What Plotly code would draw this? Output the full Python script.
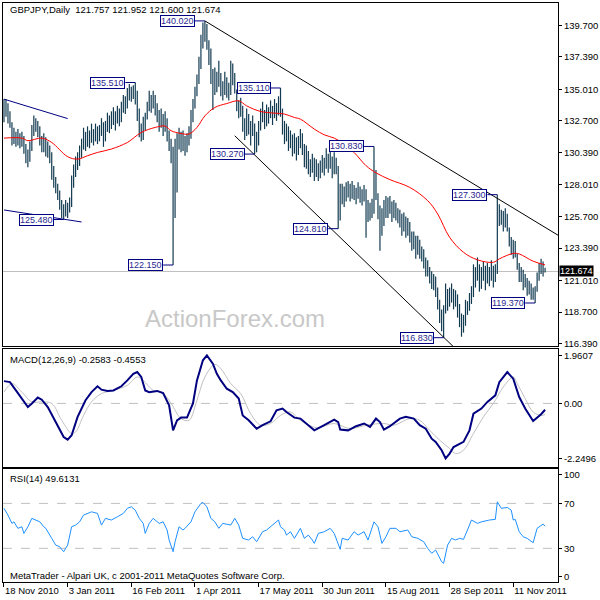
import plotly.graph_objects as go

# ---------------- data ----------------
symbol = "GBPJPY,Daily"
last_ohlc = [121.757, 121.952, 121.600, 121.674]

highs = [
    134.3, 134.3, 134.0, 133.4, 132.6, 132.2, 131.9, 132.1, 131.8, 131.9,
    131.6, 131.0, 130.6, 131.2, 132.4, 133.1, 132.9, 132.7, 132.3, 131.6,
    131.8, 131.5, 131.2, 130.9, 130.4, 129.4, 128.6, 128.1, 127.6, 126.9,
    126.6, 126.9, 126.7, 127.1, 128.7, 129.5, 130.1, 130.4, 130.9, 131.4,
    132.2, 131.9, 132.3, 132.0, 132.5, 132.1, 132.5, 132.3, 132.4, 132.9,
    132.6, 132.7, 133.3, 133.1, 133.4, 133.7, 133.4, 133.8, 133.6, 134.1,
    134.6, 134.5, 135.1, 135.4, 135.2, 135.3, 135.51, 134.9, 133.6, 132.5,
    133.0, 133.3, 134.1, 134.9, 134.6, 134.9, 134.6, 134.0, 133.5, 133.6,
    133.2, 133.4, 132.9, 132.0, 131.4, 130.8, 131.4, 131.8, 132.2, 131.9,
    132.0, 131.6, 131.8, 132.3, 133.5, 134.3, 135.2, 136.1, 137.4, 139.0,
    139.9, 140.02, 139.8, 138.6, 138.0, 136.5, 136.6, 136.3, 137.1, 136.2,
    135.6, 136.3, 135.9, 135.5, 137.1, 136.9, 136.2, 135.0, 134.2, 134.4,
    133.8, 132.9, 133.6, 133.2, 132.7, 133.1, 132.5, 131.9, 132.7, 133.6,
    134.1, 133.5, 133.9, 133.7, 134.2, 133.8, 134.3, 134.0, 134.5, 135.11,
    133.6, 132.7, 132.5, 132.3, 132.0, 131.7, 131.8, 131.5, 131.6, 132.1,
    131.8, 131.0, 130.9, 130.5, 129.9, 130.3, 130.0, 129.9, 129.6, 129.8,
    130.2, 130.0, 130.7, 130.3, 130.5, 130.1, 130.4, 130.0, 129.4, 128.1,
    128.1, 127.9, 128.2, 128.3, 128.1, 128.3, 128.0, 127.8, 128.2, 127.9,
    127.7, 128.0, 127.7, 126.9, 126.7, 127.0, 130.83, 129.1, 127.4, 126.5,
    126.3, 126.9, 127.2, 127.1, 127.2, 126.8, 126.9, 126.7, 126.3, 126.2,
    125.9, 126.0, 125.7, 125.6, 125.3, 124.6, 124.6, 124.3, 124.3, 124.0,
    123.5, 123.3, 122.7, 122.5, 122.0, 121.7, 121.5, 121.3, 120.5, 119.6,
    118.9, 119.2, 120.8, 120.4, 120.5, 120.8, 120.4, 120.3, 120.0, 119.3,
    118.6, 118.5, 119.6, 119.5, 120.1, 120.6, 122.2, 122.0, 122.7, 122.2,
    122.0, 122.4, 122.1, 122.3, 122.0, 122.5, 122.1, 122.2, 127.30, 126.6,
    126.2, 126.1, 126.3, 125.9, 124.9, 124.2, 124.0, 123.9, 123.0, 122.3,
    122.0, 121.8, 121.5, 121.2, 121.0, 120.8, 120.5, 120.6, 121.6, 122.3,
    122.6, 122.4, 121.952,
]

lows = [
    132.6, 133.0, 132.5, 132.2, 130.9, 131.0, 130.8, 130.9, 130.7, 130.8,
    130.3, 129.6, 129.3, 129.7, 130.5, 131.6, 131.9, 131.5, 130.9, 130.4,
    130.4, 130.1, 130.0, 129.6, 128.4, 127.8, 127.4, 126.9, 126.2, 125.6,
    125.48, 125.7, 125.6, 126.0, 126.4, 127.8, 128.6, 129.1, 129.4, 130.0,
    130.6, 130.5, 130.8, 130.7, 131.1, 130.9, 131.2, 131.0, 131.2, 131.6,
    130.8, 131.2, 131.9, 131.8, 132.1, 132.4, 132.0, 132.5, 132.3, 132.6,
    133.3, 133.2, 133.6, 134.2, 134.1, 134.3, 133.9, 132.7, 131.5, 131.2,
    131.3, 132.0, 132.8, 133.4, 133.3, 133.6, 133.1, 132.6, 131.9, 132.2,
    131.6, 131.9, 131.2, 130.5, 129.6, 122.15, 125.6, 127.45, 130.6, 130.4,
    130.5, 130.15, 130.4, 130.9, 131.4, 132.6, 133.6, 134.5, 135.4, 136.5,
    138.0, 138.5, 137.9, 136.8, 135.4, 133.5, 134.6, 134.8, 135.2, 134.5,
    134.2, 134.6, 134.4, 134.2, 134.6, 135.3, 134.7, 133.4, 132.9, 133.0,
    131.9, 131.3, 131.6, 131.7, 130.9, 131.6, 130.27, 130.4, 130.9, 132.0,
    132.6, 132.1, 132.3, 132.5, 132.9, 132.4, 132.9, 132.7, 133.1, 133.0,
    131.7, 131.0, 131.2, 130.5, 130.7, 130.1, 130.3, 129.8, 130.2, 130.7,
    130.2, 129.3, 129.2, 128.8, 128.6, 128.9, 128.3, 128.6, 128.3, 128.5,
    128.9, 128.7, 129.2, 128.9, 129.2, 128.5, 128.8, 128.8, 124.81, 125.4,
    126.6, 126.4, 126.8, 127.1, 126.8, 127.0, 126.9, 126.6, 127.0, 126.7,
    126.5, 126.8, 124.15, 125.3, 125.4, 125.6, 125.9, 126.9, 125.5, 123.2,
    124.3, 125.0, 125.6, 125.6, 125.9, 125.3, 125.6, 125.4, 125.2, 124.9,
    124.3, 124.6, 124.15, 124.3, 123.8, 123.2, 123.3, 122.6, 122.9, 122.6,
    122.4, 121.9, 121.3, 121.3, 120.8, 120.4, 120.3, 119.8, 118.9, 117.9,
    117.3, 116.83, 118.6, 118.8, 119.1, 119.4, 118.9, 119.1, 118.3, 117.6,
    116.9, 117.2, 117.7, 118.5, 118.8, 119.3, 119.8, 120.5, 121.0, 120.2,
    120.4, 121.0, 120.3, 120.8, 120.6, 121.0, 120.5, 120.9, 121.5, 125.0,
    125.1, 124.6, 124.9, 124.6, 123.5, 122.9, 122.6, 122.7, 121.8, 120.9,
    120.9, 120.3, 120.5, 119.9, 120.0, 119.6, 119.6, 119.37, 120.2, 121.0,
    121.5, 121.3, 121.600,
]

ma_idx = [0, 9, 12, 19, 24, 32, 37, 42, 47, 54, 62, 69, 76, 81, 84, 89, 93, 97,
          101, 106, 112, 118, 122, 129, 136, 141, 146, 149, 156, 161, 166, 171,
          176, 182, 187, 194, 204, 213, 218, 224, 231, 238, 246, 249, 256, 259,
          266, 272]
ma_val = [131.44, 131.44, 131.25, 131.44, 131.12, 130.08, 129.9, 130.15, 130.39,
          130.64, 131.12, 131.85, 132.22, 132.32, 131.98, 131.78, 131.74, 132.22,
          133.07, 133.68, 133.97, 134.17, 133.8, 133.39, 133.27, 133.2, 132.95,
          132.83, 132.1, 131.68, 131.44, 131.0, 130.39, 129.42, 128.9, 128.4,
          127.83, 126.86, 125.89, 124.18, 123.08, 122.53, 122.35, 122.6, 123.0,
          122.96, 122.43, 122.16]

macd_name = "MACD(12,26,9)"
macd_idx = [0, 3, 6, 9, 12, 14, 17, 19, 22, 26, 30, 32, 34, 37, 41, 44, 47, 49, 52, 55,
            59, 62, 65, 67, 69, 71, 73, 77, 80, 83, 85, 87, 89, 92, 95, 97, 100, 102, 105, 107,
            109, 112, 115, 118, 120, 123, 127, 130, 134, 137, 140, 142, 146, 149, 152, 156, 161, 166, 168, 169,
            173, 177, 181, 184, 187, 189, 191, 194, 199, 202, 206, 209, 212, 215, 217, 220, 222, 224, 226, 231,
            234, 236, 240, 243, 247, 249, 253, 256, 259, 262, 266, 270, 272]
macd_val = [0.91, 0.87, 0.53, 0.20, -0.15, 0.0, 0.24, 0.15, -0.15, -0.76,
            -1.37, -1.48, -1.30, -0.55, 0.13, 0.46, 0.70, 0.56, 0.51, 0.53,
            0.70, 0.94, 1.21, 1.28, 1.08, 0.53, 0.46, 0.51, 0.42, -0.08,
            -1.10, -0.69, -0.58, -0.58, 0.0, 0.94, 1.76, 1.9607, 1.62, 1.21,
            0.94, 0.60, 0.46, 0.20, -0.49, -0.69, -1.03, -0.89, -0.73, -0.28,
            -0.21, -0.35, -0.58, -0.62, -0.82, -1.10, -0.89, -0.66, -0.76, -1.07,
            -1.10, -0.93, -0.82, -0.96, -0.62, -0.76, -1.07, -0.93, -0.62, -0.55,
            -0.62, -0.89, -1.03, -1.44, -1.57, -1.91, -2.2496, -2.05, -1.78, -1.57,
            -1.10, -0.42, -0.21, 0.06, 0.33, 0.87, 1.28, 1.01, 0.26, -0.21,
            -0.72, -0.44, -0.2583]
sig_idx = [0, 4, 9, 14, 19, 24, 29, 34, 36, 40, 44, 49, 55, 62, 67, 70, 75, 80, 84, 89,
           93, 97, 101, 106, 109, 114, 119, 124, 129, 134, 139, 144, 149, 157, 166, 174, 182, 191, 196, 204,
           209, 214, 219, 224, 227, 231, 236, 241, 246, 251, 256, 258, 262, 266, 270, 272]
sig_val = [0.46, 0.81, 0.46, 0.06, 0.06, 0.0, -0.69, -1.23, -1.17, -0.49,
           0.06, 0.40, 0.53, 0.74, 1.08, 0.94, 0.53, 0.40, 0.0, -0.62,
           -0.69, 0.13, 1.08, 1.59, 1.42, 0.81, 0.40, -0.42, -0.89, -0.82,
           -0.49, -0.35, -0.69, -0.99, -0.82, -1.03, -0.89, -0.82, -0.89, -0.62,
           -0.69, -1.10, -1.50, -1.84, -2.05, -1.91, -1.23, -0.55, 0.0, 0.67,
           1.08, 0.81, 0.2, -0.35, -0.49, -0.4553]

rsi_name = "RSI(14)"
rsi_idx = [0, 2, 4, 5, 7, 9, 10, 11, 12, 14, 16, 18, 20, 21, 24, 26, 28, 30, 32, 34,
           36, 38, 40, 44, 47, 49, 51, 54, 57, 60, 62, 64, 66, 68, 70, 71, 73, 75, 78, 80,
           82, 83, 85, 86, 88, 90, 91, 94, 96, 99, 100, 102, 104, 106, 108, 110, 114, 116, 118, 120,
           123, 125, 127, 130, 132, 135, 138, 139, 141, 142, 144, 146, 149, 151, 153, 155, 156, 158, 161, 164,
           166, 169, 170, 173, 176, 178, 181, 183, 186, 188, 190, 192, 194, 197, 199, 203, 205, 208, 211, 213,
           215, 217, 220, 221, 223, 225, 227, 229, 231, 233, 235, 238, 240, 244, 247, 248, 250, 253, 255, 256,
           257, 259, 261, 263, 266, 268, 271, 272]
rsi_val = [65.6, 59.6, 52.2, 53.6, 47.8, 49.2, 43.3, 46.3, 49.2, 56.7, 55.2, 53.6, 49.2, 47.8, 38.9, 32.9, 31.4, 27.0, 32.9, 49.2,
           50.7, 53.6, 59.6, 62.5, 61.1, 50.7, 56.7, 55.2, 58.1, 61.1, 65.6, 67.0, 64.0, 56.7, 52.2, 43.3, 52.2, 56.7, 52.2, 53.6,
           46.3, 37.4, 27.0, 35.9, 49.2, 46.3, 47.8, 53.6, 62.5, 70.0, 70.9, 67.0, 56.7, 53.6, 47.8, 52.2, 50.7, 56.7, 50.7, 38.9,
           37.4, 40.3, 35.9, 44.8, 46.3, 50.7, 55.2, 49.2, 46.3, 41.8, 44.8, 38.9, 47.8, 38.9, 41.8, 37.4, 34.4, 43.3, 44.8, 47.8,
           43.3, 29.1, 38.9, 37.4, 44.8, 41.8, 44.8, 37.4, 53.6, 49.2, 34.4, 40.3, 47.8, 47.8, 44.8, 46.3, 40.3, 38.9, 35.9, 30.0,
           25.6, 28.5, 18.1, 16.7, 32.9, 38.9, 37.4, 38.9, 38.0, 46.3, 55.2, 52.2, 53.6, 55.2, 55.8, 71.4, 65.6, 66.4, 64.0, 55.2,
           55.8, 44.8, 40.3, 38.9, 35.0, 47.8, 51.6, 49.6131]

price_ticks = [139.70, 137.39, 135.01, 132.70, 130.39, 128.01, 125.70, 123.39, 121.01, 118.70, 116.39]
macd_ticks = [1.9607, 0.0, -2.2496]
rsi_ticks = [100, 70, 30, 0]
rsi_levels = [70, 30]
macd_level = 0.0

date_idx = [0, 32, 64, 96, 128, 160, 192, 224, 256]
date_labels = ["18 Nov 2010", "3 Jan 2011", "16 Feb 2011", "1 Apr 2011", "17 May 2011",
               "30 Jun 2011", "15 Aug 2011", "28 Sep 2011", "11 Nov 2011"]

label_idx = [101, 66, 139, 126, 186, 30, 85, 168, 248, 221, 267]
label_price = [140.02, 135.51, 135.11, 130.27, 130.83, 125.48, 122.15, 124.81, 127.30, 116.83, 119.37]

trend_black_upper_idx = [101, 280]
trend_black_upper_price = [140.02, 124.2]
trend_black_lower_idx = [116, 230]
trend_black_lower_price = [131.61, 115.6]
trend_navy_upper_idx = [0, 32]
trend_navy_upper_price = [134.29, 132.87]
trend_navy_lower_idx = [0, 39]
trend_navy_lower_price = [126.18, 125.3]

copyright_text = "MetaTrader - Alpari UK, c 2001-2011 MetaQuotes Software Corp."
watermark = "ActionForex.com"

# ---------------- styles ----------------
FONT = "Liberation Sans, Arial, sans-serif"
FS = 9.5
BAR_COLOR = "#123B52"
NAVY = "#000080"

fig = go.Figure()

# price bars (high-low lines)
bx, by = [], []
for i, (h, l) in enumerate(zip(highs, lows)):
    bx += [i, i, None]
    by += [l, h, None]
fig.add_trace(go.Scatter(x=bx, y=by, mode="lines", line=dict(color=BAR_COLOR, width=1.2),
                         xaxis="x", yaxis="y", hoverinfo="skip"))
# moving average
fig.add_trace(go.Scatter(x=ma_idx, y=ma_val, mode="lines", line=dict(color="#FF0000", width=1, shape="spline"),
                         xaxis="x", yaxis="y"))
# trendlines
for tx, ty, col in [(trend_black_upper_idx, trend_black_upper_price, "#000000"),
                    (trend_black_lower_idx, trend_black_lower_price, "#000000"),
                    (trend_navy_upper_idx, trend_navy_upper_price, NAVY),
                    (trend_navy_lower_idx, trend_navy_lower_price, NAVY)]:
    fig.add_trace(go.Scatter(x=tx, y=ty, mode="lines", line=dict(color=col, width=1),
                             xaxis="x", yaxis="y"))
# label connectors
for li, lp in zip(label_idx, label_price):
    fig.add_trace(go.Scatter(x=[li - 5, li], y=[lp, lp], mode="lines", line=dict(color=NAVY, width=1),
                             xaxis="x", yaxis="y"))

# MACD
fig.add_trace(go.Scatter(x=sig_idx, y=sig_val, mode="lines", line=dict(color="#C0C0C0", width=1, shape="spline"),
                         xaxis="x2", yaxis="y2"))
fig.add_trace(go.Scatter(x=macd_idx, y=macd_val, mode="lines", line=dict(color=NAVY, width=2),
                         xaxis="x2", yaxis="y2"))
# RSI
fig.add_trace(go.Scatter(x=rsi_idx, y=rsi_val, mode="lines", line=dict(color="#1E90FF", width=1),
                         xaxis="x3", yaxis="y3"))

XR = [-0.5, 278.5]
axis_common = dict(showline=True, mirror=True, linecolor="#000000", linewidth=1,
                   showgrid=False, zeroline=False)
ytick_common = dict(side="right", ticks="outside", ticklen=3, tickcolor="#000000",
                    tickfont=dict(family=FONT, size=FS, color="#000000"))

fig.update_layout(
    width=600, height=600,
    margin=dict(l=2, r=40, t=2, b=18),
    paper_bgcolor="white", plot_bgcolor="white",
    showlegend=False,
    xaxis=dict(domain=[0, 1], range=XR, anchor="y", showticklabels=False, ticks="", **axis_common),
    xaxis2=dict(domain=[0, 1], range=XR, anchor="y2", showticklabels=False, ticks="", **axis_common),
    xaxis3=dict(domain=[0, 1], range=XR, anchor="y3", tickvals=date_idx, ticktext=date_labels,
                ticks="outside", ticklen=4, tickcolor="#000000", ticklabelposition="outside right",
                tickfont=dict(family=FONT, size=FS, color="#000000"), **axis_common),
    yaxis=dict(domain=[0.4078, 1], range=[116.23, 141.33], tickvals=price_ticks,
               ticktext=[f"{v:.3f}" for v in price_ticks], **ytick_common, **axis_common),
    yaxis2=dict(domain=[0.1991, 0.4026], range=[-2.585, 2.226], tickvals=macd_ticks,
                ticktext=["1.9607", "0.00", "-2.2496"], **ytick_common, **axis_common),
    yaxis3=dict(domain=[0, 0.1957], range=[0.04, 100.9], tickvals=[95.5, 70, 30, 5],
                ticktext=[str(v) for v in rsi_ticks], **ytick_common, **axis_common),
)

shapes = []
shapes.append(dict(type="line", xref="x domain", yref="y", x0=0, x1=1, y0=last_ohlc[3], y1=last_ohlc[3],
                   line=dict(color="#C0C0C0", width=1), layer="below"))
shapes.append(dict(type="line", xref="x2 domain", yref="y2", x0=0, x1=1, y0=macd_level, y1=macd_level,
                   line=dict(color="#C0C0C0", width=1, dash="dash"), layer="below"))
for lv in rsi_levels:
    shapes.append(dict(type="line", xref="x3 domain", yref="y3", x0=0, x1=1, y0=lv, y1=lv,
                       line=dict(color="#C0C0C0", width=1, dash="dash"), layer="below"))
fig.update_layout(shapes=shapes)

ann = []
txt_font = dict(family=FONT, size=FS, color="#000000")
ann.append(dict(xref="paper", yref="paper", x=0.009, y=0.9885, xanchor="left", yanchor="middle",
                text=f"{symbol}  " + " ".join(f"{v:.3f}" for v in last_ohlc), showarrow=False, font=txt_font))
ann.append(dict(xref="paper", yref="paper", x=0.009, y=0.3845, xanchor="left", yanchor="middle",
                text=f"{macd_name} {macd_val[-1]:.4f} {sig_val[-1]:.4f}", showarrow=False, font=txt_font))
ann.append(dict(xref="paper", yref="paper", x=0.009, y=0.1793, xanchor="left", yanchor="middle",
                text=f"{rsi_name} {rsi_val[-1]:.4f}", showarrow=False, font=txt_font))
ann.append(dict(xref="paper", yref="paper", x=0.009, y=0.012, xanchor="left", yanchor="middle",
                text=copyright_text, showarrow=False, font=txt_font))
ann.append(dict(xref="paper", yref="paper", x=0.4176, y=0.455, xanchor="center", yanchor="middle",
                text=watermark, showarrow=False, font=dict(family=FONT, size=24, color="#C8C8C8")))
# current price box
ann.append(dict(xref="paper", yref="y", x=1, y=last_ohlc[3], xanchor="left", yanchor="middle", xshift=1,
                yshift=1, text=f"{last_ohlc[3]:.3f}", showarrow=False, bgcolor="#000000", borderpad=0,
                font=dict(family=FONT, size=9, color="#FFFFFF")))
# price labels
for li, lp in zip(label_idx, label_price):
    ann.append(dict(xref="x", yref="y", x=li - 5, y=lp, xanchor="right", yanchor="middle",
                    text=f"{lp:.3f}", showarrow=False, bgcolor="#FFFFFF", bordercolor=NAVY,
                    borderwidth=1, borderpad=0, font=dict(family=FONT, size=9, color="#2A1F8F")))
fig.update_layout(annotations=ann)

fig.write_html("out.html")
